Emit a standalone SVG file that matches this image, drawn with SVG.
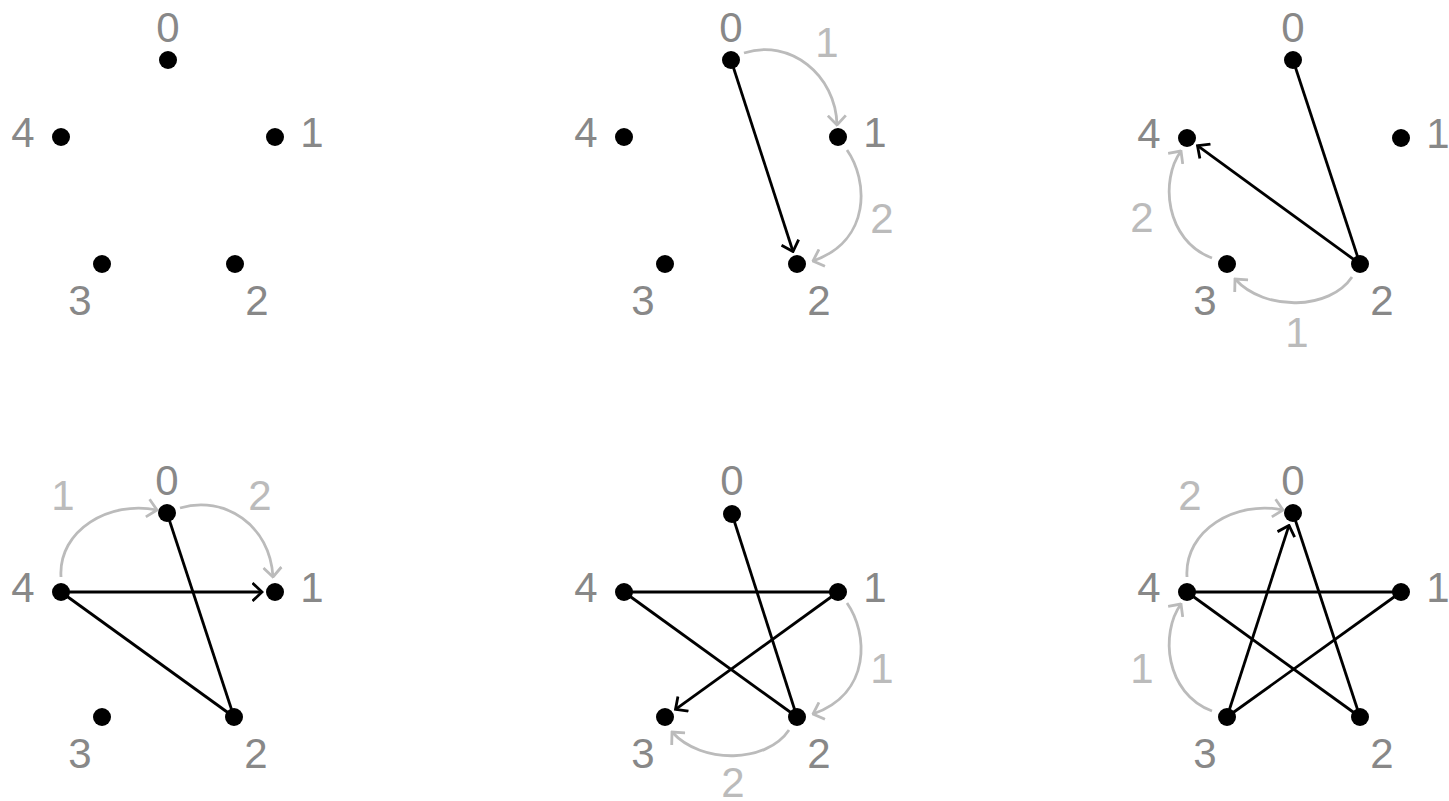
<svg xmlns="http://www.w3.org/2000/svg" width="1449" height="801" viewBox="0 0 1449 801">
<defs>
<style>
.n{fill:#000}
.lb{font-family:"Liberation Sans",Arial,sans-serif;font-size:42px;fill:#888;text-anchor:middle}
.al{font-family:"Liberation Sans",Arial,sans-serif;font-size:42px;fill:#bbb;text-anchor:middle}
.e{stroke:#000;stroke-width:2.8;fill:none}
.ea{stroke:#000;stroke-width:2.8;fill:none;marker-end:url(#ah)}
.g{stroke:#bbb;stroke-width:2.8;fill:none;marker-end:url(#ag)}
</style>
<marker id="ah" viewBox="0 0 12 20" refX="10.5" refY="10" markerWidth="12" markerHeight="20" markerUnits="userSpaceOnUse" orient="auto">
<path d="M1,1 L10.5,10 L1,19" fill="none" stroke="#000" stroke-width="2.8"/>
</marker>
<marker id="ag" viewBox="0 0 12 20" refX="10.5" refY="10" markerWidth="12" markerHeight="20" markerUnits="userSpaceOnUse" orient="auto">
<path d="M1,1 L10.5,10 L1,19" fill="none" stroke="#bbb" stroke-width="2.8"/>
</marker>
</defs>
<rect width="1449" height="801" fill="#fff"/>
<g id="connectors">
<line class="ea" x1="731" y1="60" x2="793" y2="251.5"/>
<path class="g" d="M744,53 C790,38 836,75 837,125"/>
<text class="al" x="827" y="57">1</text>
<path class="g" d="M847,150 C868,180 872,240 813,261"/>
<text class="al" x="882" y="233">2</text>
<line class="e" x1="1293" y1="60" x2="1360" y2="264"/>
<line class="ea" x1="1360" y1="264" x2="1197.5" y2="145.7"/>
<path class="g" d="M1352,277 C1330,310 1265,312 1235,279"/>
<text class="al" x="1297" y="347">1</text>
<path class="g" d="M1212,258 C1165,240 1160,180 1181,151"/>
<text class="al" x="1142" y="232">2</text>
<line class="e" x1="167" y1="513" x2="234" y2="717"/>
<line class="e" x1="61" y1="592" x2="234" y2="717"/>
<line class="ea" x1="61" y1="592" x2="262" y2="592"/>
<path class="g" d="M61,577 C58,530 110,500 157,510"/>
<text class="al" x="63" y="510">1</text>
<path class="g" d="M180,508 C225,495 270,525 273,577"/>
<text class="al" x="260" y="510">2</text>
<line class="e" x1="732" y1="514" x2="797" y2="717"/>
<line class="e" x1="624" y1="592" x2="838" y2="592"/>
<line class="e" x1="624" y1="592" x2="797" y2="717"/>
<line class="ea" x1="838" y1="592" x2="675.5" y2="709.4"/>
<path class="g" d="M847,603 C868,633 872,693 813,714"/>
<text class="al" x="882" y="683">1</text>
<path class="g" d="M789,730 C767,763 702,765 672,732"/>
<text class="al" x="733" y="797">2</text>
<line class="e" x1="1187" y1="592" x2="1401" y2="592"/>
<line class="e" x1="1187" y1="592" x2="1360" y2="717"/>
<line class="e" x1="1293" y1="513" x2="1360" y2="717"/>
<line class="e" x1="1227" y1="717" x2="1401" y2="592"/>
<line class="ea" x1="1227" y1="717" x2="1289" y2="525.4"/>
<path class="g" d="M1187,577 C1184,530 1236,500 1283,510"/>
<text class="al" x="1190" y="510">2</text>
<path class="g" d="M1212,711 C1165,693 1160,633 1181,604"/>
<text class="al" x="1142" y="683">1</text>
</g>
<g id="p1n0"><circle class="n" cx="168" cy="60" r="9"/><text class="lb" x="168" y="42">0</text></g>
<g id="p1n1"><circle class="n" cx="275" cy="137" r="9"/><text class="lb" x="312" y="147">1</text></g>
<g id="p1n2"><circle class="n" cx="235" cy="264" r="9"/><text class="lb" x="257" y="315">2</text></g>
<g id="p1n3"><circle class="n" cx="102" cy="264" r="9"/><text class="lb" x="80" y="315">3</text></g>
<g id="p1n4"><circle class="n" cx="61" cy="137" r="9"/><text class="lb" x="23" y="147">4</text></g>
<g id="p2n0"><circle class="n" cx="731" cy="60" r="9"/><text class="lb" x="731" y="42">0</text></g>
<g id="p2n1"><circle class="n" cx="838" cy="137" r="9"/><text class="lb" x="875" y="147">1</text></g>
<g id="p2n2"><circle class="n" cx="797" cy="264" r="9"/><text class="lb" x="819" y="315">2</text></g>
<g id="p2n3"><circle class="n" cx="665" cy="264" r="9"/><text class="lb" x="643" y="315">3</text></g>
<g id="p2n4"><circle class="n" cx="624" cy="137" r="9"/><text class="lb" x="586" y="147">4</text></g>
<g id="p3n0"><circle class="n" cx="1293" cy="60" r="9"/><text class="lb" x="1293" y="42">0</text></g>
<g id="p3n1"><circle class="n" cx="1401" cy="138" r="9"/><text class="lb" x="1438" y="148">1</text></g>
<g id="p3n2"><circle class="n" cx="1360" cy="264" r="9"/><text class="lb" x="1382" y="315">2</text></g>
<g id="p3n3"><circle class="n" cx="1227" cy="264" r="9"/><text class="lb" x="1205" y="315">3</text></g>
<g id="p3n4"><circle class="n" cx="1187" cy="138" r="9"/><text class="lb" x="1149" y="148">4</text></g>
<g id="p4n0"><circle class="n" cx="167" cy="513" r="9"/><text class="lb" x="167" y="495">0</text></g>
<g id="p4n1"><circle class="n" cx="275" cy="592" r="9"/><text class="lb" x="312" y="602">1</text></g>
<g id="p4n2"><circle class="n" cx="234" cy="717" r="9"/><text class="lb" x="256" y="768">2</text></g>
<g id="p4n3"><circle class="n" cx="102" cy="717" r="9"/><text class="lb" x="80" y="768">3</text></g>
<g id="p4n4"><circle class="n" cx="61" cy="592" r="9"/><text class="lb" x="23" y="602">4</text></g>
<g id="p5n0"><circle class="n" cx="732" cy="514" r="9"/><text class="lb" x="732" y="495">0</text></g>
<g id="p5n1"><circle class="n" cx="838" cy="592" r="9"/><text class="lb" x="875" y="602">1</text></g>
<g id="p5n2"><circle class="n" cx="797" cy="717" r="9"/><text class="lb" x="819" y="768">2</text></g>
<g id="p5n3"><circle class="n" cx="665" cy="717" r="9"/><text class="lb" x="643" y="768">3</text></g>
<g id="p5n4"><circle class="n" cx="624" cy="592" r="9"/><text class="lb" x="586" y="602">4</text></g>
<g id="p6n0"><circle class="n" cx="1293" cy="513" r="9"/><text class="lb" x="1293" y="495">0</text></g>
<g id="p6n1"><circle class="n" cx="1401" cy="592" r="9"/><text class="lb" x="1438" y="602">1</text></g>
<g id="p6n2"><circle class="n" cx="1360" cy="717" r="9"/><text class="lb" x="1382" y="768">2</text></g>
<g id="p6n3"><circle class="n" cx="1227" cy="717" r="9"/><text class="lb" x="1205" y="768">3</text></g>
<g id="p6n4"><circle class="n" cx="1187" cy="592" r="9"/><text class="lb" x="1149" y="602">4</text></g>
</svg>
